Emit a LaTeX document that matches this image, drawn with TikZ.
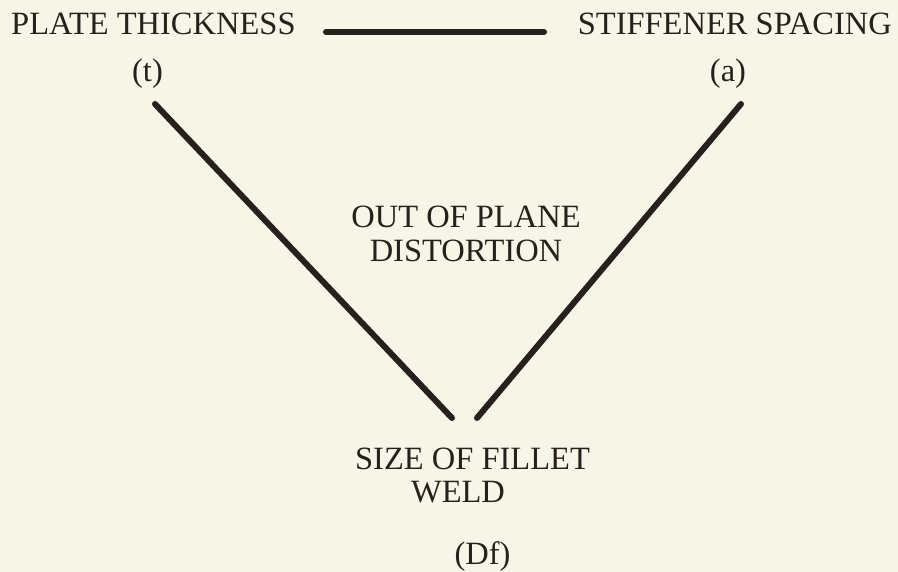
\documentclass[tikz,border=0pt]{standalone}
\usepackage{fontspec}
\setmainfont{Liberation Serif}
\definecolor{paper}{RGB}{246,245,232}
\definecolor{ink}{RGB}{40,32,28}
\begin{document}
\begin{tikzpicture}[x=1pt,y=-1pt,
  lbl/.style={inner sep=0pt, font=\fontsize{32.5}{33}\selectfont, text=ink},
  link/.style={line width=6pt, line cap=round, draw=ink}]
\fill[paper] (0,0) rectangle (898,572);
\useasboundingbox (0,0) rectangle (898,572);
\node[lbl, anchor=base west] (pt) at (11,35) {PLATE THICKNESS};
\node[lbl, anchor=base east] (ss) at (892,35) {STIFFENER SPACING};
\coordinate (h1) at (326,32);
\coordinate (h2) at (544,32);
\draw[link] (h1) -- (h2);
\node[lbl, anchor=base] (t) at (147.5,82) {(t)};
\node[lbl, anchor=base] (a) at (728,82) {(a)};
\coordinate (l1) at (155,104);
\coordinate (l2) at (452,418);
\coordinate (r1) at (741,104);
\coordinate (r2) at (477,418);
\draw[link] (l1) -- (l2);
\draw[link] (r1) -- (r2);
\node[lbl, anchor=base] (opd1) at (466,228) {OUT OF PLANE};
\node[lbl, anchor=base] (opd2) at (466,262) {DISTORTION};
\node[lbl, anchor=base] (sfw1) at (472.5,469) {SIZE OF FILLET};
\node[lbl, anchor=base] (sfw2) at (458,502) {WELD};
\node[lbl, anchor=base] (df) at (482.5,564) {(Df)};
\end{tikzpicture}
\end{document}
